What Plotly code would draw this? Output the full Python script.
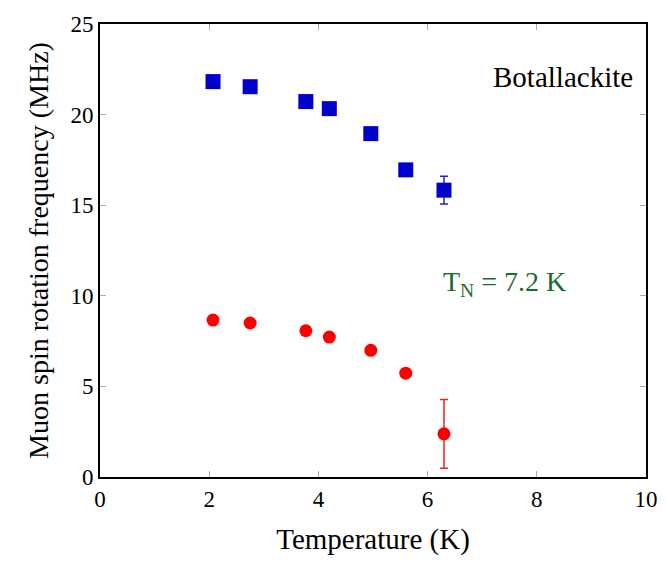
import plotly.graph_objects as go

temperature = [2.07, 2.75, 3.77, 4.20, 4.96, 5.60, 6.30]
freq_high = [21.82, 21.54, 20.72, 20.33, 18.95, 16.95, 15.83]
err_high = [0, 0, 0, 0, 0, 0, 0.77]
freq_low = [8.66, 8.50, 8.07, 7.72, 6.99, 5.73, 2.38]
err_low = [0, 0, 0, 0, 0, 0, 1.9]

FONT = "Liberation Serif"

fig = go.Figure()
fig.add_trace(go.Scatter(
    x=temperature, y=freq_high, mode="markers",
    marker=dict(symbol="square", size=15, color="#0000cc"),
    error_y=dict(type="data", array=err_high, visible=True, color="#2222cc", thickness=1.5, width=4),
    showlegend=False,
))
fig.add_trace(go.Scatter(
    x=temperature, y=freq_low, mode="markers",
    marker=dict(symbol="circle", size=13, color="#ff0000"),
    error_y=dict(type="data", array=err_low, visible=True, color="#ee2222", thickness=1.5, width=4),
    showlegend=False,
))

axis_common = dict(
    showline=True, linecolor="black", linewidth=2, mirror="ticks",
    ticks="inside", ticklen=6, tickcolor="#aaaaaa", tickwidth=1,
    showgrid=False, zeroline=False,
    tickfont=dict(family=FONT, size=23, color="black"),
)

fig.update_xaxes(range=[0, 10], dtick=2, **axis_common,
                 title=dict(text="Temperature (K)", font=dict(family=FONT, size=29, color="black"), standoff=18))
fig.update_yaxes(range=[0, 25], dtick=5, **axis_common,
                 title=dict(text="Muon spin rotation frequency (MHz)", font=dict(family=FONT, size=28, color="black"), standoff=14))

fig.add_annotation(x=9.8, y=22.1, text="Botallackite", showarrow=False,
                   xanchor="right", yanchor="middle",
                   font=dict(family=FONT, size=29, color="black"))
fig.add_annotation(x=6.24, y=10.7, text="T<sub>N</sub> = 7.2 K", showarrow=False,
                   xanchor="left", yanchor="middle",
                   font=dict(family=FONT, size=28, color="#1a6b2a"))

fig.update_layout(
    width=670, height=564,
    margin=dict(l=100, r=18, t=18, b=87),
    plot_bgcolor="white", paper_bgcolor="white",
)

fig.write_html("out.html")
